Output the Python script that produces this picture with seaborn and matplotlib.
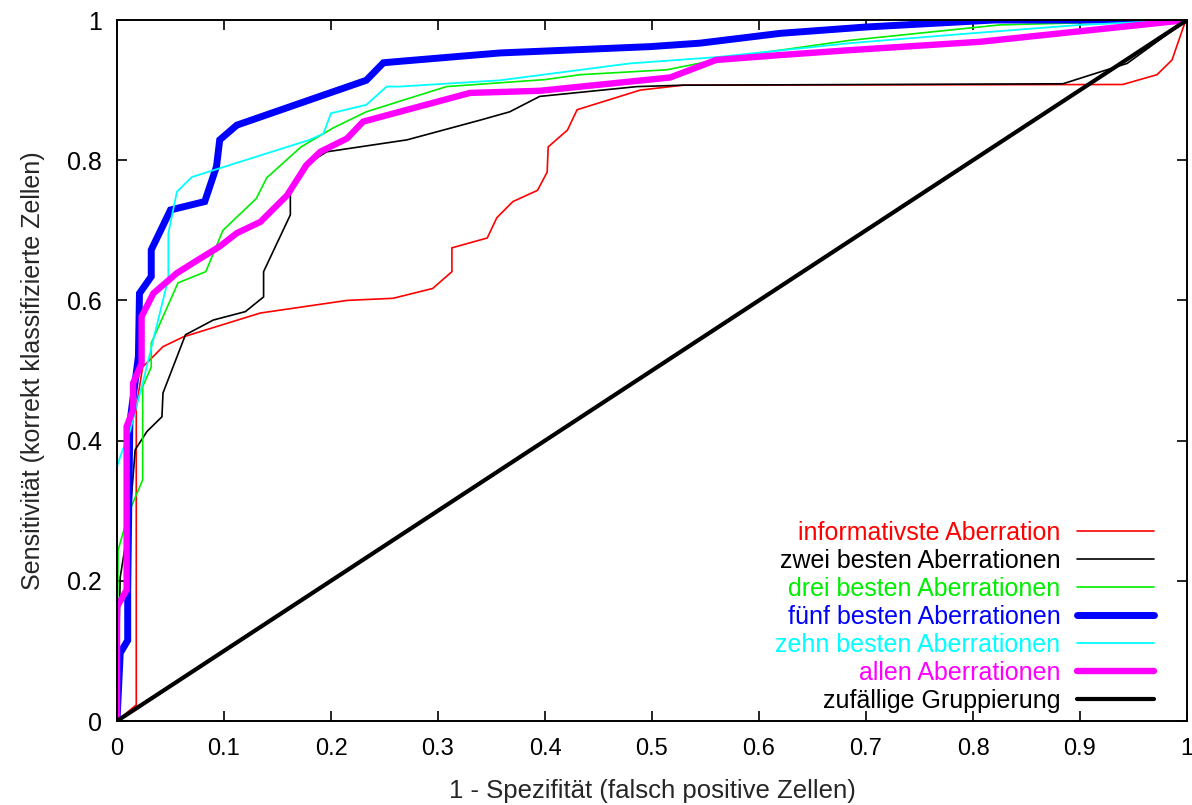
import numpy as np
import pandas as pd
import matplotlib
matplotlib.use("Agg")
import matplotlib.pyplot as plt
import seaborn as sns

# ---- data ----
red_x = [0, 0.018, 0.018, 0.024, 0.043, 0.062, 0.134, 0.215, 0.258, 0.295, 0.313, 0.313, 0.346, 0.355,
         0.370, 0.393, 0.402, 0.403, 0.421, 0.430, 0.489, 0.529, 0.940, 0.972, 0.986, 0.998, 1.0]
red_y = [0, 0.023, 0.448, 0.505, 0.534, 0.548, 0.582, 0.600, 0.603, 0.617, 0.641, 0.675, 0.689, 0.718,
         0.741, 0.757, 0.783, 0.819, 0.843, 0.872, 0.900, 0.907, 0.908, 0.922, 0.943, 0.996, 1.0]

black_x = [0, 0.003, 0.012, 0.017, 0.028, 0.042, 0.043, 0.064, 0.090, 0.120, 0.137, 0.137, 0.162, 0.162,
           0.174, 0.196, 0.271, 0.339, 0.367, 0.395, 0.486, 0.529, 0.884, 0.919, 0.944, 1.0]
black_y = [0, 0.205, 0.291, 0.387, 0.413, 0.434, 0.468, 0.551, 0.572, 0.584, 0.605, 0.641, 0.722, 0.757,
           0.791, 0.812, 0.829, 0.857, 0.869, 0.891, 0.905, 0.907, 0.909, 0.926, 0.938, 1.0]

green_x = [0, 0.001, 0.012, 0.024, 0.024, 0.032, 0.032, 0.057, 0.083, 0.099, 0.130, 0.140, 0.172, 0.202,
           0.233, 0.264, 0.308, 0.400, 0.433, 0.514, 0.576, 0.620, 0.685, 0.825, 1.0]
green_y = [0, 0.244, 0.301, 0.344, 0.477, 0.505, 0.539, 0.625, 0.641, 0.700, 0.745, 0.775, 0.819, 0.846,
           0.869, 0.884, 0.905, 0.915, 0.922, 0.929, 0.948, 0.957, 0.971, 0.993, 1.0]

blue_x = [0, 0.003, 0.010, 0.010, 0.012, 0.020, 0.021, 0.032, 0.032, 0.050, 0.082, 0.093, 0.096, 0.112,
          0.180, 0.233, 0.249, 0.264, 0.358, 0.498, 0.545, 0.620, 0.700, 0.820, 1.0]
blue_y = [0, 0.097, 0.115, 0.187, 0.425, 0.520, 0.610, 0.634, 0.672, 0.729, 0.741, 0.791, 0.829, 0.850,
          0.886, 0.914, 0.939, 0.941, 0.953, 0.962, 0.967, 0.981, 0.990, 1.0, 1.0]

cyan_x = [0, 0, 0.003, 0.012, 0.024, 0.046, 0.048, 0.048, 0.056, 0.070, 0.180, 0.193, 0.200, 0.233,
          0.252, 0.264, 0.358, 0.479, 0.560, 0.685, 0.790, 0.900, 1.0]
cyan_y = [0, 0.363, 0.377, 0.413, 0.482, 0.619, 0.634, 0.696, 0.755, 0.776, 0.829, 0.838, 0.867, 0.879,
          0.905, 0.905, 0.914, 0.938, 0.947, 0.967, 0.980, 0.993, 1.0]

mag_x = [0, 0, 0.009, 0.009, 0.015, 0.015, 0.023, 0.023, 0.034, 0.056, 0.078, 0.096, 0.112, 0.134,
         0.159, 0.177, 0.190, 0.215, 0.230, 0.264, 0.330, 0.395, 0.517, 0.560, 0.620, 0.685, 0.807, 1.0]
mag_y = [0, 0.163, 0.187, 0.420, 0.444, 0.482, 0.510, 0.577, 0.610, 0.639, 0.660, 0.677, 0.696, 0.712,
         0.750, 0.793, 0.812, 0.831, 0.855, 0.869, 0.896, 0.899, 0.918, 0.943, 0.950, 0.957, 0.969, 1.0]

rand_x = [0, 1]
rand_y = [0, 1]

labels = ["informativste Aberration", "zwei besten Aberrationen", "drei besten Aberrationen",
          "fünf besten Aberrationen", "zehn besten Aberrationen", "allen Aberrationen",
          "zufällige Gruppierung"]
x_ticks = [0, 0.1, 0.2, 0.3, 0.4, 0.5, 0.6, 0.7, 0.8, 0.9, 1]
x_ticklabels = ["0", "0.1", "0.2", "0.3", "0.4", "0.5", "0.6", "0.7", "0.8", "0.9", "1"]
y_ticks = [0, 0.2, 0.4, 0.6, 0.8, 1]
y_ticklabels = ["0", "0.2", "0.4", "0.6", "0.8", "1"]
x_label = "1 - Spezifität (falsch positive Zellen)"
y_label = "Sensitivität (korrekt klassifizierte Zellen)"

# ---- style ----
sns.set_style("ticks")
plt.rcParams["font.family"] = ["Liberation Sans", "DejaVu Sans"]

fig = plt.figure(figsize=(11.92, 8.05), dpi=100)
ax = fig.add_axes([117 / 1192, 1 - 721 / 805, 1070 / 1192, 701 / 805])

series = [
    (red_x, red_y, "#ff0000", 1.2),
    (black_x, black_y, "#000000", 1.2),
    (green_x, green_y, "#00ee00", 1.2),
    (blue_x, blue_y, "#0000ff", 5.0),
    (cyan_x, cyan_y, "#00ffff", 1.3),
    (mag_x, mag_y, "#ff00ff", 4.6),
    (rand_x, rand_y, "#000000", 3.0),
]

for (xs, ys, col, lw), lab in zip(series, labels):
    sns.lineplot(x=xs, y=ys, ax=ax, sort=False, estimator=None, color=col,
                 linewidth=lw, label=lab, solid_joinstyle="miter")

ax.set_xlim(0, 1)
ax.set_ylim(0, 1)
ax.set_xticks(x_ticks)
ax.set_xticklabels(x_ticklabels, fontsize=17)
ax.set_yticks(y_ticks)
ax.set_yticklabels(y_ticklabels, fontsize=18)
ax.tick_params(direction="in", length=7, width=1.2, top=True, right=True, colors="black")
ax.tick_params(axis="x", pad=12)
ax.tick_params(axis="y", pad=11)
for sp in ax.spines.values():
    sp.set_visible(True)
    sp.set_linewidth(1.4)
    sp.set_color("black")
ax.set_xlabel(x_label, fontsize=18.5, labelpad=14)
ax.set_ylabel(y_label, fontsize=18, labelpad=16)

leg = ax.legend(loc="lower right", bbox_to_anchor=((1154 - 117) / 1070, 0.012),
                borderaxespad=0, borderpad=0, frameon=False, markerfirst=False,
                labelcolor="linecolor", fontsize=18, handlelength=3.1,
                handletextpad=0.65, labelspacing=0.16)

fig.savefig("out.png", dpi=100, facecolor="white")
